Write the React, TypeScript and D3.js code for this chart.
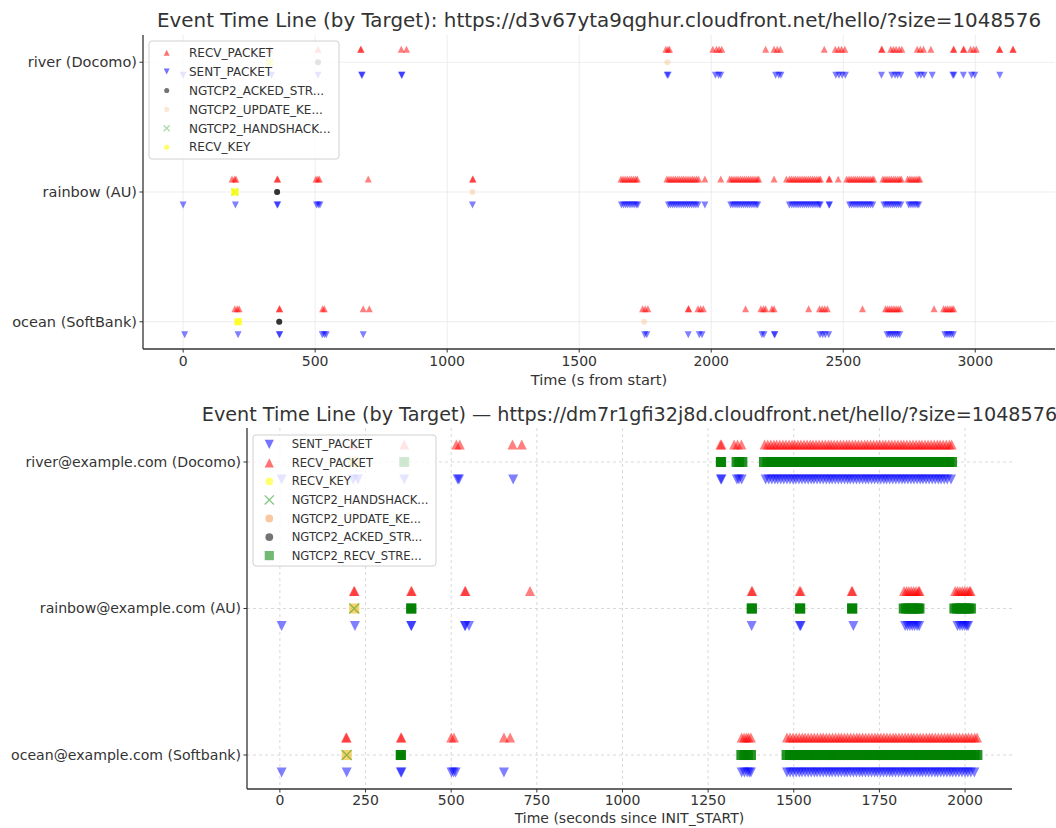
import React from "react";
import * as d3 from "d3";

const FONT = "'DejaVu Sans', sans-serif";
const INK = "#333333";

// ---------------- Top chart data (rows: 0 = bottom) ----------------
const topRows = ["ocean (SoftBank)", "rainbow (AU)", "river (Docomo)"];
const topTicks = [0, 500, 1000, 1500, 2000, 2500, 3000];

const t_river_recv = [328, 511, 672, 674, 826, 846, 1828, 1836, 1842, 2006, 2020, 2030, 2040, 2206, 2238, 2250, 2262, 2428, 2470, 2482, 2494, 2506, 2645, 2647, 2680, 2690, 2700, 2712, 2722, 2780, 2792, 2804, 2832, 2917, 2919, 2955, 2957, 2982, 2994, 3004, 3091, 3093, 3142, 3144];
const t_river_sent = [0, 335, 511, 676, 678, 827, 829, 1833, 1837, 2016, 2028, 2036, 2244, 2256, 2264, 2472, 2484, 2496, 2508, 2645, 2684, 2696, 2706, 2718, 2782, 2794, 2806, 2837, 2915, 2919, 2955, 2986, 2998, 3093];
const t_river_acked = [511];
const t_river_update = [1834];
const t_river_hs = [328];
const t_river_key = [328];

const t_rainbow_recv = [185, 195, 200, 356, 358, 503, 510, 516, 701, 1096, 1098,
  1658, 1666, 1674, 1682, 1690, 1698, 1706, 1714, 1720,
  1832, 1840, 1848, 1856, 1864, 1872, 1880, 1888, 1896, 1904, 1912, 1920, 1928, 1936, 1944, 1952,
  1976, 2036,
  2070, 2078, 2086, 2094, 2102, 2110, 2118, 2126, 2134, 2142, 2150, 2158, 2166, 2174, 2180,
  2238,
  2285, 2296, 2304, 2312, 2320, 2328, 2336, 2344, 2352, 2360, 2368, 2376, 2384, 2392, 2400, 2408, 2414,
  2446, 2448, 2481, 2513,
  2522, 2530, 2538, 2546, 2554, 2562, 2570, 2578, 2586, 2594, 2602, 2610, 2616,
  2650, 2658, 2666, 2674, 2682, 2690, 2698, 2706, 2714, 2720,
  2744, 2752, 2760, 2768, 2776, 2784, 2790];
const t_rainbow_sent = [0, 198, 356, 358, 505, 512, 518, 1096,
  1660, 1668, 1676, 1684, 1692, 1700, 1708, 1716, 1722,
  1838, 1846, 1854, 1862, 1870, 1878, 1886, 1894, 1902, 1910, 1918, 1926, 1934, 1942, 1950,
  1976,
  2074, 2082, 2090, 2098, 2106, 2114, 2122, 2130, 2138, 2146, 2154, 2162, 2170, 2176,
  2296, 2305, 2313, 2321, 2329, 2337, 2345, 2353, 2361, 2369, 2377, 2385, 2393, 2401, 2409, 2413,
  2446, 2448,
  2524, 2532, 2540, 2548, 2556, 2564, 2572, 2580, 2588, 2596, 2604, 2612,
  2654, 2662, 2670, 2678, 2686, 2694, 2702, 2710, 2718,
  2748, 2756, 2764, 2772, 2780, 2786];
const t_rainbow_acked = [356, 356];
const t_rainbow_update = [1096];
const t_rainbow_hs = [196];
const t_rainbow_key = [196, 196];

const t_ocean_recv = [196, 205, 212, 364, 366, 528, 535, 682, 705,
  1740, 1750, 1760, 1913, 1915, 1950, 1960, 1970, 2130, 2188, 2198, 2206, 2230, 2238, 2369,
  2410, 2420, 2430, 2440, 2573,
  2660, 2668, 2676, 2684, 2692, 2700, 2708, 2716, 2844,
  2880, 2888, 2896, 2904, 2912, 2918];
const t_ocean_sent = [6, 208, 364, 366, 527, 535, 542, 682,
  1748, 1756, 1913, 1955, 1965, 2192, 2200, 2239, 2241,
  2412, 2422, 2432, 2445,
  2666, 2674, 2682, 2690, 2698, 2706, 2714,
  2885, 2893, 2901, 2909, 2917];
const t_ocean_acked = [364, 364];
const t_ocean_update = [1746];
const t_ocean_hs: number[] = [];
const t_ocean_key = [208, 208];

// ---------------- Bottom chart data ----------------
const botRows = ["ocean@example.com (Softbank)", "rainbow@example.com (AU)", "river@example.com (Docomo)"];
const botTicks = [0, 250, 500, 750, 1000, 1250, 1500, 1750, 2000];

const b_river_sent = [5, 214, 228, 363, 519, 523, 681, 1287, 1289, 1334, 1340, 1348,
  1418, 1427, 1436, 1445, 1453, 1462, 1471, 1480, 1489, 1498, 1506, 1515, 1524, 1533, 1542, 1551, 1559, 1568, 1577, 1586, 1595, 1604, 1612, 1621, 1630, 1639, 1648, 1657, 1665, 1674, 1683, 1692, 1701, 1710, 1718, 1727, 1736, 1745, 1754, 1763, 1771, 1780, 1789, 1798, 1807, 1816, 1824, 1833, 1842, 1851, 1860, 1869, 1877, 1886, 1895, 1904, 1913, 1922, 1930, 1939, 1948, 1959];
const b_river_recv = [214, 363, 515, 525, 679, 706, 1286, 1289, 1326, 1336, 1347,
  1415, 1424, 1433, 1442, 1450, 1459, 1468, 1477, 1486, 1495, 1503, 1512, 1521, 1530, 1539, 1548, 1556, 1565, 1574, 1583, 1592, 1601, 1609, 1618, 1627, 1636, 1645, 1654, 1662, 1671, 1680, 1689, 1698, 1707, 1715, 1724, 1733, 1742, 1751, 1760, 1768, 1777, 1786, 1795, 1804, 1813, 1821, 1830, 1839, 1848, 1857, 1866, 1874, 1883, 1892, 1901, 1910, 1919, 1927, 1936, 1945, 1954, 1961];
const b_river_key = [214];
const b_river_hs = [214];
const b_river_update = [214];
const b_river_acked = [363];
const b_river_stream = [363, 1287, 1288, 1333, 1341, 1350,
  1413, 1423, 1433, 1443, 1452, 1462, 1472, 1482, 1492, 1502, 1511, 1521, 1531, 1541, 1551, 1561, 1570, 1580, 1590, 1600, 1610, 1620, 1629, 1639, 1649, 1659, 1669, 1679, 1688, 1698, 1708, 1718, 1728, 1738, 1747, 1757, 1767, 1777, 1787, 1797, 1806, 1816, 1826, 1836, 1846, 1856, 1865, 1875, 1885, 1895, 1905, 1915, 1924, 1934, 1944, 1954, 1962];

const b_rainbow_sent = [5, 219, 383, 384, 540, 541, 552, 1377, 1518, 1520, 1674,
  1825, 1832, 1839, 1846, 1853, 1860, 1866, 1978, 1985, 1992, 1999, 2005, 2009];
const b_rainbow_recv = [216, 218, 383, 385, 540, 542, 730, 1377, 1379, 1517, 1520, 1669, 1671,
  1822, 1829, 1836, 1843, 1850, 1857, 1864, 1867, 1971, 1978, 1985, 1992, 1999, 2006, 2013, 2016];
const b_rainbow_key = [217];
const b_rainbow_hs = [217];
const b_rainbow_update = [217];
const b_rainbow_acked = [383];
const b_rainbow_stream = [383, 384, 1377, 1378, 1518, 1519, 1670, 1671,
  1821, 1828, 1835, 1842, 1849, 1856, 1863, 1867, 1969, 1976, 1983, 1990, 1997, 2004, 2011, 2017];

const b_ocean_sent = [5, 195, 353, 355, 501, 507, 513, 654, 1348, 1356, 1364, 1370, 1375,
  1480, 1489, 1498, 1507, 1516, 1524, 1533, 1542, 1551, 1560, 1568, 1577, 1586, 1595, 1604, 1612, 1621, 1630, 1639, 1648, 1656, 1665, 1674, 1683, 1692, 1700, 1709, 1718, 1727, 1736, 1744, 1753, 1762, 1771, 1780, 1788, 1797, 1806, 1815, 1824, 1832, 1841, 1850, 1859, 1868, 1876, 1885, 1894, 1903, 1912, 1920, 1929, 1938, 1947, 1956, 1964, 1973, 1982, 1991, 2000, 2008, 2017, 2027];
const b_ocean_recv = [193, 195, 353, 355, 500, 508, 654, 672, 1348, 1355, 1362, 1368, 1375,
  1480, 1489, 1498, 1507, 1516, 1525, 1533, 1542, 1551, 1560, 1569, 1578, 1586, 1595, 1604, 1613, 1622, 1631, 1639, 1648, 1657, 1666, 1675, 1684, 1692, 1701, 1710, 1719, 1728, 1737, 1745, 1754, 1763, 1772, 1781, 1790, 1798, 1807, 1816, 1825, 1834, 1843, 1851, 1860, 1869, 1878, 1887, 1896, 1904, 1913, 1922, 1931, 1940, 1949, 1957, 1966, 1975, 1984, 1993, 2002, 2010, 2019, 2028, 2035];
const b_ocean_key = [195];
const b_ocean_hs = [195];
const b_ocean_update = [195];
const b_ocean_acked = [353];
const b_ocean_stream = [353, 353, 1347, 1356, 1366, 1375,
  1479, 1489, 1499, 1509, 1518, 1528, 1538, 1548, 1558, 1567, 1577, 1587, 1597, 1607, 1616, 1626, 1636, 1646, 1656, 1665, 1675, 1685, 1695, 1705, 1714, 1724, 1734, 1744, 1754, 1763, 1773, 1783, 1793, 1803, 1812, 1822, 1832, 1842, 1852, 1861, 1871, 1881, 1891, 1901, 1910, 1920, 1930, 1940, 1950, 1959, 1969, 1979, 1989, 1999, 2008, 2018, 2028, 2036];

type Marker = "tu" | "td" | "o" | "s" | "x";
interface Series {
  name: string; color: string; alpha: number; marker: Marker; legendMarker: Marker;
  legendAlpha: number; offset: number; times: number[][]; z?: number;
}

const topSeries: Series[] = [
  { name: "RECV_PACKET", color: "#ff0000", alpha: 0.5, marker: "tu", legendMarker: "tu", legendAlpha: 0.55, offset: 0.1, times: [t_ocean_recv, t_rainbow_recv, t_river_recv] },
  { name: "SENT_PACKET", color: "#0000ff", alpha: 0.5, marker: "td", legendMarker: "td", legendAlpha: 0.55, offset: -0.1, times: [t_ocean_sent, t_rainbow_sent, t_river_sent] },
  { name: "NGTCP2_ACKED_STR...", color: "#000000", alpha: 0.55, marker: "o", legendMarker: "o", legendAlpha: 0.55, offset: 0, times: [t_ocean_acked, t_rainbow_acked, t_river_acked] },
  { name: "NGTCP2_UPDATE_KE...", color: "#f4a460", alpha: 0.3, marker: "o", legendMarker: "o", legendAlpha: 0.25, offset: 0, times: [t_ocean_update, t_rainbow_update, t_river_update] },
  { name: "NGTCP2_HANDSHACK...", color: "#2ca02c", alpha: 0.45, marker: "x", legendMarker: "x", legendAlpha: 0.4, offset: 0, times: [t_ocean_hs, t_rainbow_hs, t_river_hs] },
  { name: "RECV_KEY", color: "#ffff00", alpha: 0.6, marker: "s", legendMarker: "o", legendAlpha: 0.6, offset: 0, times: [t_ocean_key, t_rainbow_key, t_river_key] },
];

const botSeries: Series[] = [
  { name: "SENT_PACKET", color: "#0000ff", alpha: 0.5, marker: "td", legendMarker: "td", legendAlpha: 0.55, offset: -0.12, times: [b_ocean_sent, b_rainbow_sent, b_river_sent] },
  { name: "RECV_PACKET", color: "#ff0000", alpha: 0.5, marker: "tu", legendMarker: "tu", legendAlpha: 0.55, offset: 0.12, times: [b_ocean_recv, b_rainbow_recv, b_river_recv] },
  { name: "RECV_KEY", color: "#ffff00", alpha: 0.5, marker: "s", legendMarker: "o", legendAlpha: 0.55, offset: 0, times: [b_ocean_key, b_rainbow_key, b_river_key] },
  { name: "NGTCP2_HANDSHACK...", color: "#2ca02c", alpha: 0.55, marker: "x", legendMarker: "x", legendAlpha: 0.6, offset: 0, times: [b_ocean_hs, b_rainbow_hs, b_river_hs], z: 1 },
  { name: "NGTCP2_UPDATE_KE...", color: "#f4a460", alpha: 0.5, marker: "s", legendMarker: "o", legendAlpha: 0.6, offset: 0, times: [b_ocean_update, b_rainbow_update, b_river_update] },
  { name: "NGTCP2_ACKED_STR...", color: "#000000", alpha: 0.5, marker: "o", legendMarker: "o", legendAlpha: 0.55, offset: 0, times: [b_ocean_acked, b_rainbow_acked, b_river_acked] },
  { name: "NGTCP2_RECV_STRE...", color: "#008000", alpha: 0.85, marker: "s", legendMarker: "s", legendAlpha: 0.55, offset: 0, times: [b_ocean_stream, b_rainbow_stream, b_river_stream] },
];

interface PanelCfg {
  left: number; right: number; top: number; bottom: number;
  xDomain: [number, number]; yDomain: [number, number]; xTicks: number[];
  rows: string[]; series: Series[];
  title: string; titleY: number; titleSize: number; xlabel: string; xlabelY: number; xlabelSize: number;
  tickLabelDy: number; ytickSize: number;
  dashed: boolean; size: number; legendSize: number;
  legend: { x: number; y: number; w: number; h: number; step: number; first: number; mx: number; tx: number; font: number };
}

function MarkerShape({ m, cx, cy, h, color, alpha }: { m: Marker; cx: number; cy: number; h: number; color: string; alpha: number }) {
  if (m === "tu") return <path d={`M${cx},${cy - h}L${cx + h},${cy + h}L${cx - h},${cy + h}Z`} fill={color} fillOpacity={alpha} />;
  if (m === "td") return <path d={`M${cx},${cy + h}L${cx + h},${cy - h}L${cx - h},${cy - h}Z`} fill={color} fillOpacity={alpha} />;
  if (m === "o") return <circle cx={cx} cy={cy} r={h} fill={color} fillOpacity={alpha} />;
  if (m === "s") return <rect x={cx - h} y={cy - h} width={2 * h} height={2 * h} fill={color} fillOpacity={alpha} />;
  return <path d={`M${cx - h},${cy - h}L${cx + h},${cy + h}M${cx - h},${cy + h}L${cx + h},${cy - h}`} stroke={color} strokeOpacity={alpha} strokeWidth={1.3} fill="none" />;
}

function Panel({ c }: { c: PanelCfg }) {
  const x = d3.scaleLinear().domain(c.xDomain).range([c.left, c.right]);
  const y = d3.scaleLinear().domain(c.yDomain).range([c.bottom, c.top]);
  const gridColor = c.dashed ? "#cfcfcf" : "#e8e8e8";
  const dash = c.dashed ? "3,3" : undefined;
  const cx = (c.left + c.right) / 2;
  const hs = (m: Marker) => (m === "o" ? c.size * 0.85 : c.size);
  const lhs = (m: Marker) => (m === "o" ? c.legendSize * 0.85 : c.legendSize);
  const ordered = c.series.map((s, i) => ({ s, i })).sort((a, b) => (a.s.z || 0) - (b.s.z || 0) || a.i - b.i);
  return (
    <g>
      {c.xTicks.map((t) => (
        <line key={"gx" + t} x1={x(t)} x2={x(t)} y1={c.top} y2={c.bottom} stroke={gridColor} strokeWidth={0.8} strokeDasharray={dash} />
      ))}
      {c.rows.map((r, i) => (
        <line key={"gy" + i} x1={c.left} x2={c.right} y1={y(i)} y2={y(i)} stroke={gridColor} strokeWidth={0.8} strokeDasharray={dash} />
      ))}
      {ordered.map(({ s, i: si }) => (
        <g key={"s" + si}>
          {s.times.map((arr, ri) =>
            arr.map((t, k) => (
              <MarkerShape key={ri + "-" + k} m={s.marker} cx={x(t)} cy={y(ri + s.offset)} h={hs(s.marker)} color={s.color} alpha={s.alpha} />
            ))
          )}
        </g>
      ))}
      <line x1={c.left} x2={c.left} y1={c.top} y2={c.bottom} stroke={INK} strokeWidth={1.3} />
      <line x1={c.left} x2={c.right} y1={c.bottom} y2={c.bottom} stroke={INK} strokeWidth={1.3} />
      {c.xTicks.map((t) => (
        <g key={"tx" + t}>
          <line x1={x(t)} x2={x(t)} y1={c.bottom} y2={c.bottom + 3.5} stroke={INK} strokeWidth={1} />
          <text x={x(t)} y={c.bottom + c.tickLabelDy} textAnchor="middle" fontSize={14} fill={INK} fontFamily={FONT}>{t}</text>
        </g>
      ))}
      {c.rows.map((r, i) => (
        <g key={"ty" + i}>
          <line x1={c.left - 3.5} x2={c.left} y1={y(i)} y2={y(i)} stroke={INK} strokeWidth={1} />
          <text x={c.left - 6} y={y(i)} dy="0.35em" textAnchor="end" fontSize={c.ytickSize} fill={INK} fontFamily={FONT}>{r}</text>
        </g>
      ))}
      <text x={cx} y={c.titleY} textAnchor="middle" fontSize={c.titleSize} fill={INK} fontFamily={FONT}>{c.title}</text>
      <text x={cx} y={c.xlabelY} textAnchor="middle" fontSize={c.xlabelSize} fill={INK} fontFamily={FONT}>{c.xlabel}</text>
      <g>
        <rect x={c.legend.x} y={c.legend.y} width={c.legend.w} height={c.legend.h} rx={3} fill="#ffffff" fillOpacity={0.8} stroke="#d0d0d0" strokeWidth={1} />
        {c.series.map((s, i) => {
          const ly = c.legend.first + i * c.legend.step;
          return (
            <g key={"lg" + i}>
              <MarkerShape m={s.legendMarker} cx={c.legend.mx} cy={ly} h={lhs(s.legendMarker)} color={s.color} alpha={s.legendAlpha} />
              <text x={c.legend.tx} y={ly} dy="0.35em" fontSize={c.legend.font} fill={INK} fontFamily={FONT}>{s.name}</text>
            </g>
          );
        })}
      </g>
    </g>
  );
}

const topCfg: PanelCfg = {
  left: 143, right: 1055, top: 35, bottom: 349,
  xDomain: [-152, 3302], yDomain: [-0.21, 2.21], xTicks: topTicks,
  rows: topRows, series: topSeries,
  title: "Event Time Line (by Target): https://d3v67yta9qghur.cloudfront.net/hello/?size=1048576",
  titleY: 27, titleSize: 19.9, xlabel: "Time (s from start)", xlabelY: 385, xlabelSize: 14.6,
  tickLabelDy: 17, ytickSize: 14.5,
  dashed: false, size: 3.5, legendSize: 3,
  legend: { x: 149, y: 41, w: 190, h: 118, step: 18.9, first: 52.7, mx: 166.7, tx: 189, font: 12 },
};

const botCfg: PanelCfg = {
  left: 247, right: 1012, top: 428, bottom: 789,
  xDomain: [-96, 2137], yDomain: [-0.232, 2.232], xTicks: botTicks,
  rows: botRows, series: botSeries,
  title: "Event Time Line (by Target) \u2014 https://dm7r1gfi32j8d.cloudfront.net/hello/?size=1048576",
  titleY: 421, titleSize: 19.2, xlabel: "Time (seconds since INIT_START)", xlabelY: 823, xlabelSize: 14,
  tickLabelDy: 16, ytickSize: 14.1,
  dashed: true, size: 5, legendSize: 4.6,
  legend: { x: 253, y: 435, w: 183, h: 131, step: 18.55, first: 444.3, mx: 269.3, tx: 291.7, font: 11.6 },
};

export default function App() {
  return (
    <svg width={1056} height={828} viewBox="0 0 1056 828" style={{ position: "absolute", left: 0, top: 0, background: "#ffffff" }}>
      <rect x={0} y={0} width={1056} height={828} fill="#ffffff" />
      <Panel c={topCfg} />
      <Panel c={botCfg} />
    </svg>
  );
}
